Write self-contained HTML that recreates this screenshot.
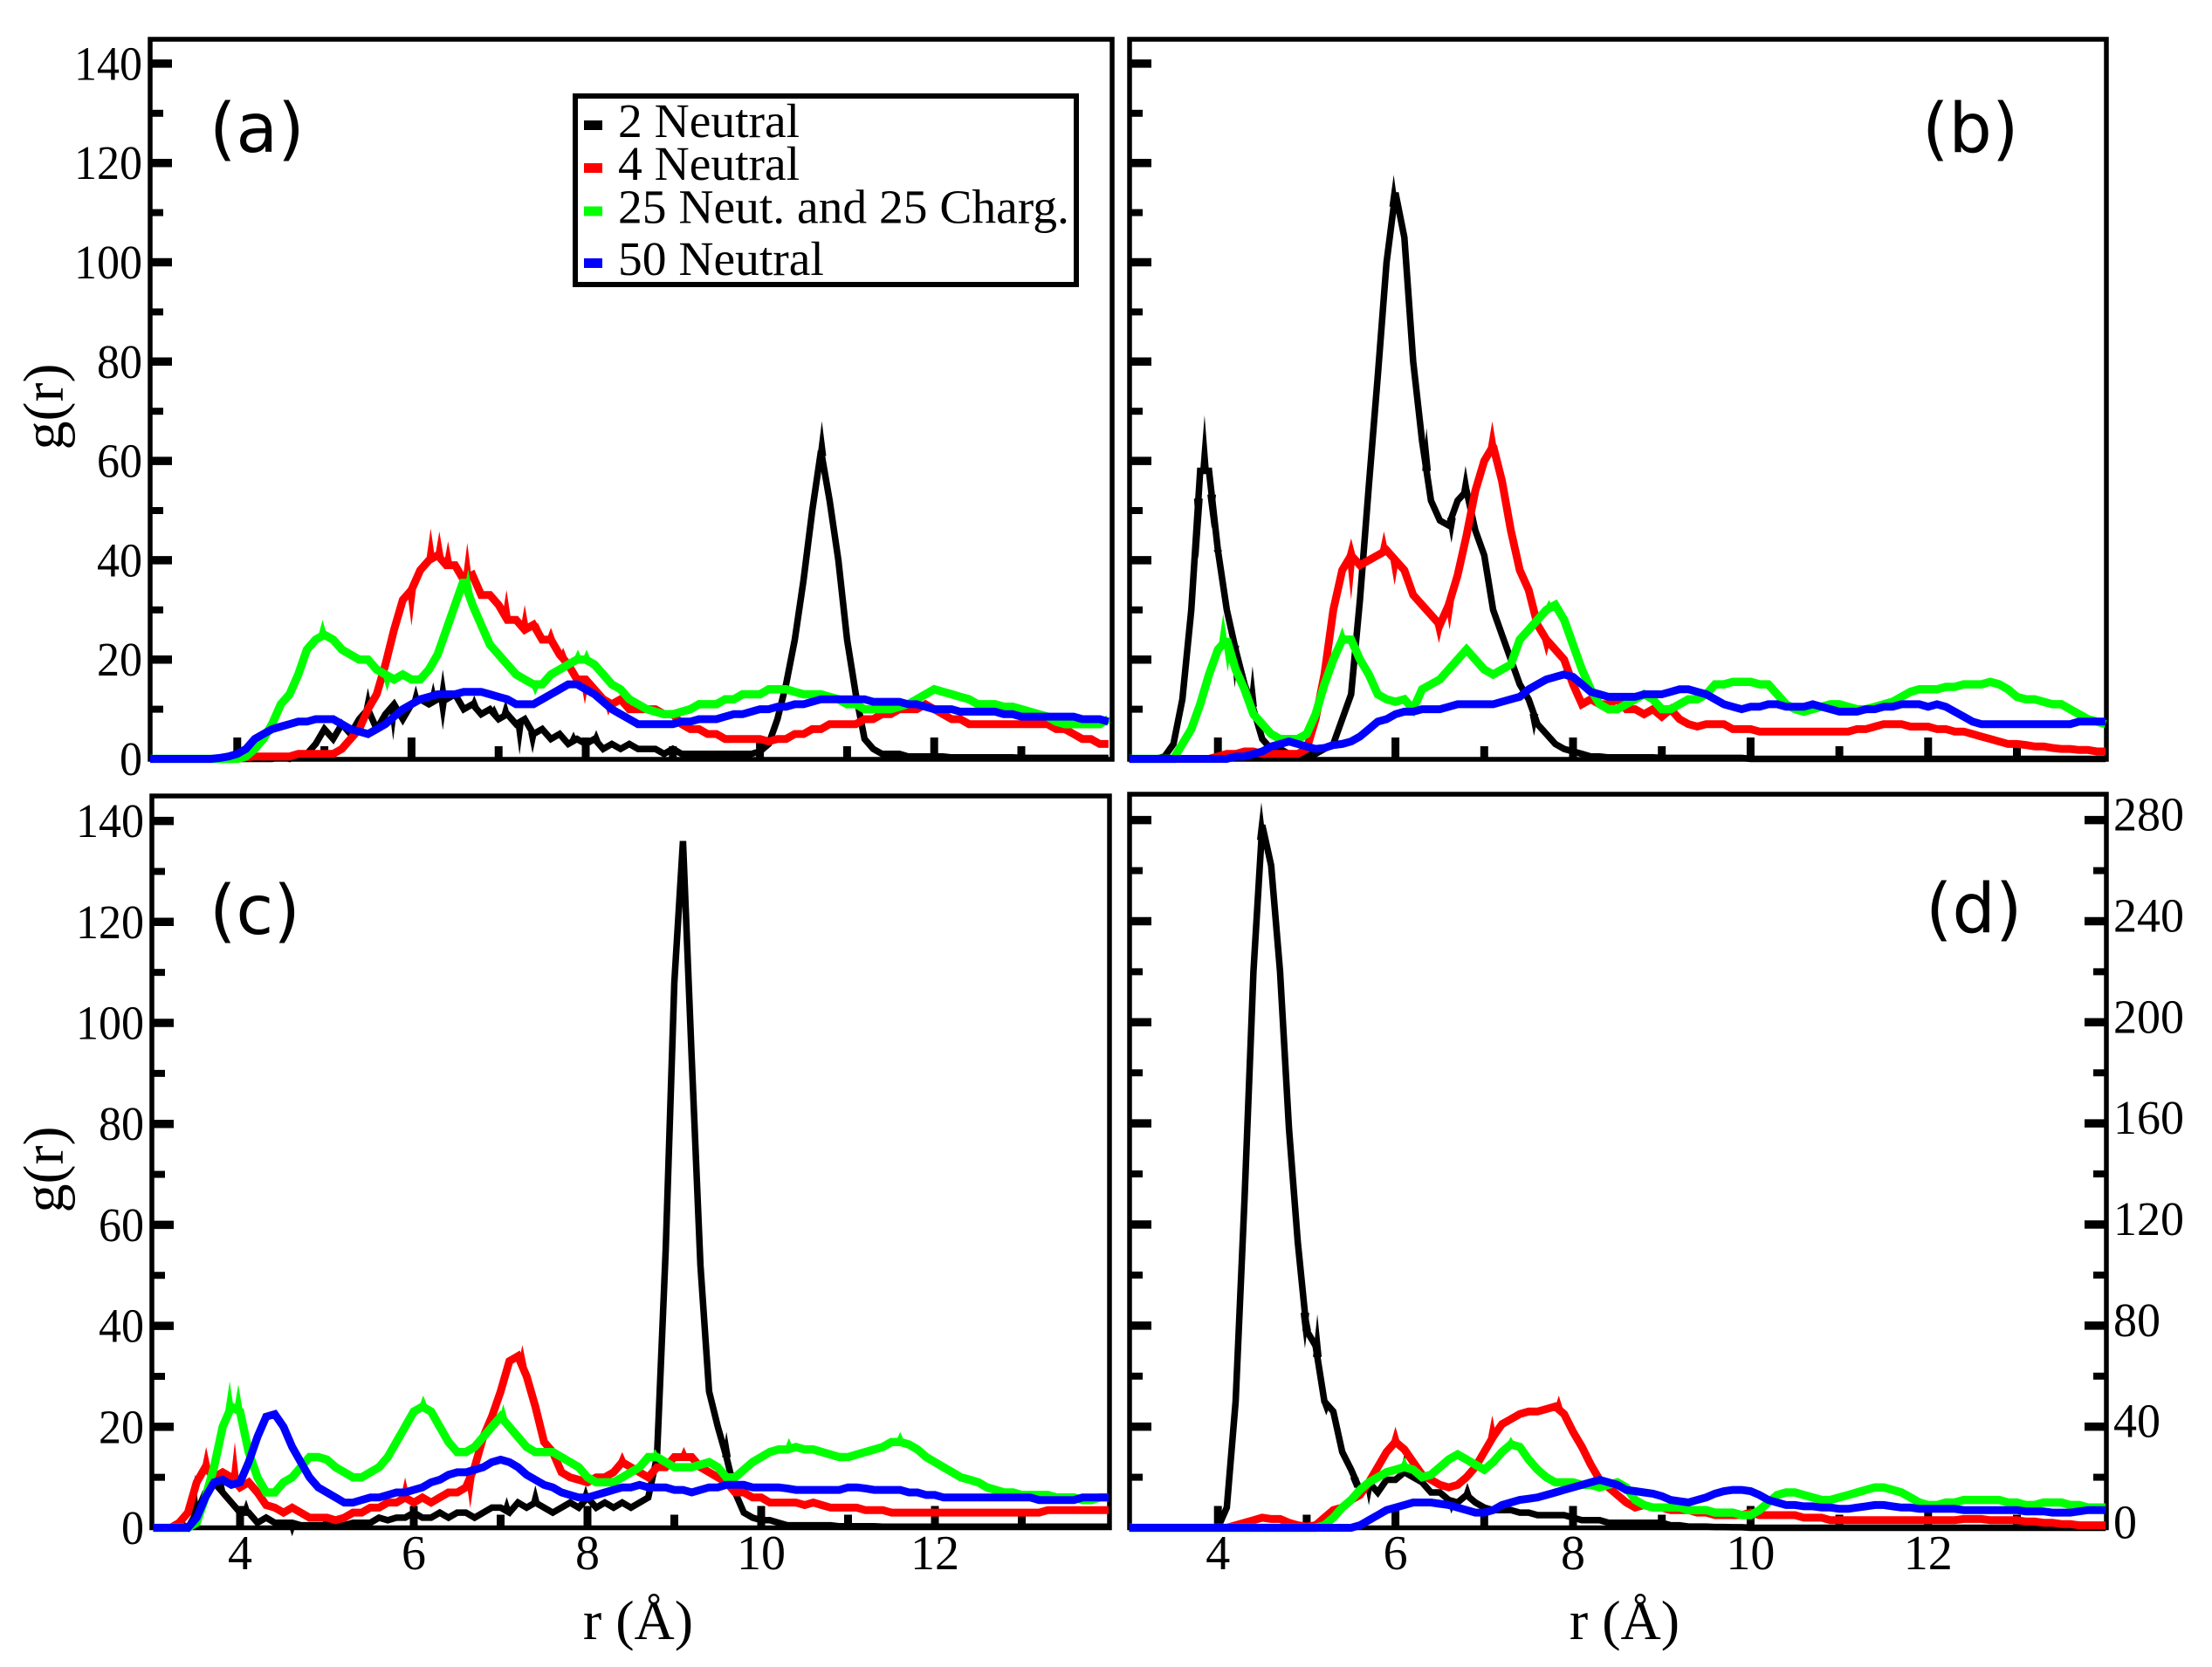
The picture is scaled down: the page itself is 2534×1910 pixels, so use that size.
<!DOCTYPE html>
<html lang="en">
<head>
<meta charset="utf-8">
<title>g(r) radial distribution panels</title>
<style>
html,body{margin:0;padding:0;background:#fff;}
svg{display:block;}
.serif{font-family:"Liberation Serif",serif;fill:#000;}
.sans{font-family:"DejaVu Sans",sans-serif;fill:#000;}
</style>
</head>
<body>
<svg id="chart" xmlns="http://www.w3.org/2000/svg" width="2534" height="1910" viewBox="0 0 2534 1910">
<rect x="0" y="0" width="2534" height="1910" fill="#fff"/>
<g id="panels"></g>
<g id="legend"></g>
</svg>
<script>
const rGrid=[
3.0,3.1,3.2,3.3,3.4,3.5,3.6,3.7,3.8,3.9,
4.0,4.1,4.2,4.3,4.4,4.5,4.6,4.7,4.8,4.9,
5.0,5.1,5.2,5.3,5.4,5.5,5.6,5.7,5.8,5.9,
6.0,6.1,6.2,6.3,6.4,6.5,6.6,6.7,6.8,6.9,
7.0,7.1,7.2,7.3,7.4,7.5,7.6,7.7,7.8,7.9,
8.0,8.1,8.2,8.3,8.4,8.5,8.6,8.7,8.8,8.9,
9.0,9.1,9.2,9.3,9.4,9.5,9.6,9.7,9.8,9.9,
10.0,10.1,10.2,10.3,10.4,10.5,10.6,10.7,10.8,10.9,
11.0,11.1,11.2,11.3,11.4,11.5,11.6,11.7,11.8,11.9,
12.0,12.1,12.2,12.3,12.4,12.5,12.6,12.7,12.8,12.9,
13.0,13.1,13.2,13.3,13.4,13.5,13.6,13.7,13.8,13.9,
14.0];

const seriesNames=["2 Neutral","4 Neutral","25 Neut. and 25 Charg.","50 Neutral"];
const leftTickLabels=["0","20","40","60","80","100","120","140"];
const rightTickLabels=["0","40","80","120","160","200","240","280"];
const xTickLabels=["4","6","8","10","12"];

/* Panel (a) */
const aBlack=[
0,0,0,0,0,0,0,0,0,0,
0,0,0,0,0,0.5,0,1,1,3,
6,4,7,5,8,10,6,9,11,8,
11,12,11,12,12,13,10,11,9,10,
8,9,7,8,5,6,4,5,3,4,
3,4,2,3,2,3,2,2,2,1,
2,1,1,1,1,1,1,1,1,1,
1.5,3,8,15,24,36,50,62,52,40,
24,13,4,2,1,1,1,0.5,0.5,0.5,
0.5,0.5,0.3,0.3,0.3,0.3,0.3,0.3,0.3,0.3,
0.2,0.2,0.2,0.2,0.2,0.2,0.2,0.2,0.2,0.2,
0.2];
const aBlackSpikeR=[5.5,5.79,6.05,6.25,6.36,6.36,6.72,6.95,7.08,7.24,7.39,7.86,8.12,10.71];
const aBlackSpikeG=[14.3,3.7,14.8,15.4,18,5.8,12.8,10.8,11.9,0.8,1.1,5.5,5.8,68];
const aRed=[
0,0,0,0,0,0,0,0,0,0,
0,0.3,0.5,0.5,0.5,0.5,0.5,1,1,1,
1,1,2,4,6,10,13,19,26,32,
34,38,40,41,39,39,36,37,33,33,
31,28,28,26,27,24,24,21,19,16,
16,14,12,11,12,10,10,10,10,9,
9,7,6,6,5,5,4,4,4,4,
4,3.5,4,4,5,5,6,6,7,7,
7,7,8,8,9,9,10,10,10,11,
10,9,8,8,7,7,7,7,7,7,
7,7,7,7,6,6,5,4,4,3,
3];
const aRedSpikeR=[6.0,6.22,6.32,6.42,6.64,7.09,7.3,7.45,7.6,7.74,7.99,8.26];
const aRedSpikeG=[26.8,46.4,45.8,43.8,43.5,34,31,27.4,26.4,22.4,11,8.7];
const aGreen=[
0,0,0,0,0,0,0,0,0,0,
0,0.5,2,4,7,11,13,17,22,24,
25,24,22,21,20,20,18,17,16,17,
16,16,18,21,26,31,36,31,27,23,
21,19,17,16,15,15,17,18,19,20,
20,19,17,15,14,12,11,10,9.5,9,
9,9.5,10,11,11,11,12,12,13,13,
13,14,14,14,13.5,13,13,13,12.5,12,
11,11,10,10,10,10,10.5,11,12,13,
14,13.5,13,12.5,12,11,11,11,10.5,10.5,
10,9.5,9,8.5,7.5,7,7,7,7,7,
8];
const aGreenSpikeR=[4.98,5.72,6.65,7.42,7.91,8.01];
const aGreenSpikeG=[28,13.6,38.2,12.8,22,22];
const aBlue=[
0,0,0,0,0,0,0,0,0.2,0.5,
1,2,4,5,6,6.5,7,7.5,7.5,8,
8,8,7,6,5.5,5,6,7,8.5,10,
11,12,12.5,13,13,13,13.5,13.5,13.5,13,
12.5,12,11,11,11,12,13,14,15,15,
14,13,11.5,10,9,8,7,7,7,7,
7,7.5,7.5,8,8,8,8.5,9,9,9.5,
10,10,10.5,10.5,11,11,11.5,12,12,12,
12,12,12,11.5,11.5,11.5,11.5,11,11,10.5,
10,10,10,9.5,9.5,9.5,9.5,9.5,9,9,
8.5,8.5,8.5,8.5,8.5,8.5,8.5,8,8,8,
7.5];

/* Panel (b) */
const bBlack=[
0,0,0,0,0.5,3,12,30,58,58,
42,30,22,15,10,4,2,2,1,1,
1,1,2,3,8,13,32,55,77,100,
114,105,80,64,52,48,47,52,54,46,
41,30,25,20,15,12,7,5,3,2,
1.5,1,0.5,0.5,0.3,0.3,0.3,0.3,0.3,0.3,
0.2,0.2,0.2,0.2,0.2,0.2,0.2,0.2,0.2,0.2,
0,0,0,0,0,0,0,0,0,0,
0,0,0,0,0,0,0,0,0,0,
0,0,0,0,0,0,0,0,0,0,
0,0,0,0,0,0,0,0,0,0,
0];
const bBlackSpikeR=[3.78,3.85,3.93,4.0,4.19,4.39,5.98,6.35,6.63,6.79,7.56];
const bBlackSpikeG=[40.3,69.2,46.4,40.6,14.3,18.7,117.6,66.6,43.5,59,4.6];
const bRed=[
0,0,0,0,0,0,0,0,0,0,
0.5,1,1,1.5,1.5,1,1,1,1,1,
2,8,17,30,38,41,39,40,41,42,
40,38,33,31,29,27,31,37,45,54,
60,63,56,46,38,34,27,24,22,20,
15,11,12,11,11,12,10,10,9,10,
8.5,10,8,7,6.5,7,7,7,6,6,
6,5.5,5.5,5.5,5.5,5.5,5.5,5.5,5.5,5.5,
5.5,5.5,6,6,6.5,7,7,7,6.5,6.5,
6.5,6,6,5.5,5.5,5,4.5,4,3.5,3,
3,2.8,2.5,2.5,2.2,2,2,1.8,1.8,1.5,
1.5];
const bRedSpikeR=[5.5,5.5,5.87,5.99,6.49,6.61,7.09,7.7];
const bRedSpikeG=[44.4,32,45.8,35,23.3,26,68,20.7];
const bGreen=[
0,0,0,0,0,0,3,6,11,17,
22,24,18,14,9,7,5,4,4,4,
5,9,15,20,24,24,20,17,13,12,
11.5,12,10,14,15,16,18,20,22,20,
18,17,18,19,24,26,28,30,31,28,
23,18,14,11,10,10,11,12,13,12,
10,10,11,12,12,13,15,15,15.5,15.5,
15.5,15,15,13,11,10,9.5,10,10.5,11,
11,10.5,10,10,10.5,11,11.5,12.5,13.5,14,
14,14,14.5,14.5,15,15,15,15.5,15,14,
12.5,12,12,11.5,11,11,10,9,8,7.5,
7];
const bGreenSpikeR=[4.06,4.11,5.4,7.73];
const bGreenSpikeG=[29.2,17.5,26.5,32];
const bBlue=[
0,0,0,0,0,0,0,0,0,0,
0,0,0.5,0.5,1,1.5,2.5,3,3.5,3,
2.5,2,2.2,2.8,3,3.5,4.5,6,7.5,8,
9,9.5,9.5,10,10,10,10.5,11,11,11,
11,11,11.5,12,12.5,14,15,16,16.5,17,
16.5,15,13.5,13,12.5,12.5,12.5,12.5,13,13,
13,13.5,14,14,13.5,13,12,11,10.5,10,
10.5,10.5,11,11,10.5,10.5,10.5,11,10.5,10,
9.5,9.5,9.5,10,10,10.5,10.5,11,11,11,
10.5,11,10.5,9.5,8.5,7.5,7,7,7,7,
7,7,7,7,7,7,7,7.5,7.5,7.5,
7.5];

/* Panel (c) */
const cBlack=[
0,0,0,1,0,3,7,9,7,5,
3,3,1,2,1,1,1,0.5,0.5,0.5,
0.5,0.5,0.5,1,1,1,2,1.5,2,2,
3,2,2,3,2,3,3,2,3,4,
4,3,5,4,5,4,3,4,5,4,
6,4,5,4,5,4,5,6,14,55,
108,136,93,52,27,20,14,7,3,2,
1.5,1.5,1,0.5,0.5,0.5,0.5,0.5,0.5,0.3,
0.3,0.3,0.3,0.3,0.2,0.2,0.2,0.2,0.2,0.2,
0.2,0.2,0.2,0.2,0.2,0.2,0.2,0.2,0.2,0.2,
0.2,0.2,0.2,0.2,0.2,0.2,0.2,0.2,0.2,0.2,
0.2];
const cBlackSpikeR=[3.48,3.78,4.07,4.6,7.07,7.4,7.98,9.6];
const cBlackSpikeG=[10.6,11,5.6,-1.7,6.1,8.4,8.4,19];
const cRed=[
0,0,0,1,3,9,12,10,11,10,
8,9,7,4.5,4,3,4,3,2,2,
2,1.5,2,3,3,4,4,5,5,6,
5,6,5,6,7,7,8,12,18,22,
27,33,34,30,24,17,15,11,10,9.5,
9,10,10,11,13,12,11,10,12,12,
14,14,14,12,11,10,9,7,7,6,
6,5,5,5,5,4.5,5,4.5,4,4,
4,4,3.5,3.5,3.5,3,3,3,3,3,
3,3,3,3,3,3,3,3,3,3,
3,3,3,3.5,3.5,3.5,3.5,3.5,3.5,3.5,
3.5];
const cRedSpikeR=[3.61,3.94,5.9,6.65,7.25,8.4,9.11];
const cRedSpikeG=[16,17,10,3.9,36.2,15,16];
const cGreen=[
0,0,0,0,0,1,6,12,20,24,
23,15,10,7,7,9,10,12,14,14,
13.5,12,11,10,10,11,12,14,17,20,
23,24,23,20,17,15,15,16,18,20,
22,20,18,16,15,15,15,14,13,12,
10,9,9,9,10,11,12,14,14,13,
12,12,12,12.5,13,12,10,10,11.5,13,
14,15,15.5,15.5,16,15.5,15.5,15,14.5,14,
14,14.5,15,15.5,16,17,17,16.5,15.5,14,
13,12,11,10,9.5,9,8,7.5,7,7,
6.5,6.5,6.5,6.5,6,6,6,5.5,5.5,6,
6];
const cGreenSpikeR=[3.88,3.98,6.11,7.03,8.78,10.32,11.6];
const cGreenSpikeG=[29,28.4,26.2,24.5,15.6,17.8,19];
const cBlue=[
0,0,0,0,0,2,6,9,9.5,8.5,
9,13,18,22,22.5,20,16,13,10,8,
7,6,5,5,5.5,6,6,6.5,7,7,
7.5,8,9,9.5,10.5,11,11,11.5,12,13,
13.5,13,12,10.5,9.5,8.5,8,7,6.5,6,
6,6.5,7,7.5,8,8,8.5,8,8,8,
7.5,7.5,7,7.5,8,8,8.5,8.5,8.5,8,
8,8,8,7.8,7.5,7.5,7.5,7.5,7.5,7.5,
8,8,7.8,7.5,7.5,7.5,7.5,7,7,6.5,
6.5,6,6,6,6,6,6,6,6,6,
6,6,5.5,5.5,5.5,5.5,5.5,6,6,6,
6];

/* Panel (d), values on the right axis scale */
const dBlack=[
0,0,0,0,0,0,0,0,0,0,
0,8,50,130,220,278,262,220,158,113,
78,72,50,46,30,23,15,18,14,19,
19,22,20,18,14,14,11,10,13,10,
8,7,7,7,6,6,5,5,5,5,
4,3,3,3,2,2,2,2,2,2,
2,1,1,0.5,0.5,0.5,0.3,0.3,0.2,0.2,
0,0,0,0,0,0,0,0,0,0,
0,0,0,0,0,0,0,0,0,0,
0,0,0,0,0,0,0,0,0,0,
0,0,0,0,0,0,0,0,0,0,
0];
const dBlackSpikeR=[4.49,4.98,5.0,5.12,5.22,5.54,5.7,6.1,6.63,6.81];
const dBlackSpikeG=[287,71,86.7,84.5,44.5,15.6,8.9,29,5.6,17.8];
const dRed=[
0,0,0,0,0,0,0,0,0,0,
0,0,1,2,3,4,3.5,3.5,2,1,
0.5,1,4,7,8,11,13,18,24,30,
34,31,26,21,19,17,16,17,20,24,
30,36,41,43,45,46,46,47,48,45,
38,32,25,19,16,13,10,8,9,8,
8,7,7,7,6,6,5,5,5,5,
6,5,5,5,5,5,4,4,4,3,
3,3,3,3,3,3,3,3,3,3,
3,3,3,3,3.5,3.5,3.5,3,3,3,
3,2.5,2.5,2,2,1.5,1.5,1,1,1,
1];
const dRedSpikeR=[6.0,7.09,7.84,8.67];
const dRedSpikeG=[40,44.5,52.3,8.9];
const dGreen=[
0,0,0,0,0,0,0,0,0,0,
0,0,0,0,0,0,0,0,0,0,
0,0,1,4,8,11,15,18,20,22,
23,24,23,20,21,24,27,29,27,25,
23,26,30,33,32,27,23,20,18,18,
18,17,17,16,17,18,16,11,9,8,
8,8,8,7,7,7,6,6,6,5,
5,7,10,13,14,14,13,12,11,11,
12,13,14,15,16,16,15,14,12,10,
9,9,10,10,11,11,11,11,11,10,
10,9,9,10,10,10,9,9,8,8,
8];
const dGreenSpikeR=[6.1,7.3];
const dGreenSpikeG=[28,36];
const dBlue=[
0,0,0,0,0,0,0,0,0,0,
0,0,0,0,0,0,0,0,0,0,
0,0,0,0,0,0,1,3,5,7,
8,9,10,10,10,9.5,9,8,7,6,
6,7,9,10,11,11.5,12,13,14,15,
16,17,18,19,18,17,15,14.5,14,13.5,
12.5,11,10.5,10,11,12,13.5,14.5,15,15,
14.5,13,11,10,9,9,8.5,8.5,8,8,
7.5,7.5,8,8.5,9,9,8.5,8,8,7.5,
7.5,7.5,7.5,7.5,7,7,7,7,7,7,
7,6.5,6.5,6.5,6,6,6,6.5,7,7,
7];

const SVGNS="http://www.w3.org/2000/svg";
const colours=["#000000","#ff0000","#00ff00","#0000ff"];
const widths=[7.5,9,9.5,9];

function mk(parent,tag,attrs){
  const e=document.createElementNS(SVGNS,tag);
  for(const k in attrs){e.setAttribute(k,attrs[k]);}
  parent.appendChild(e);
  return e;
}
function valueAt(vals,r){
  for(let i=0;i<rGrid.length-1;i++){
    if(r<=rGrid[i+1]){
      const t=(r-rGrid[i])/(rGrid[i+1]-rGrid[i]);
      return vals[i]+(vals[i+1]-vals[i])*t;
    }
  }
  return vals[vals.length-1];
}

const panelDefs=[
 {id:"a",series:[aBlack,aRed,aGreen,aBlue],spikeR:[aBlackSpikeR,aRedSpikeR,aGreenSpikeR,[]],spikeG:[aBlackSpikeG,aRedSpikeG,aGreenSpikeG,[]],
  box:[172,45,1274,870],x3:172,xu:99.8,y0:869.5,yu:5.69,
  leftLabels:true,xLabels:false,titleY:466,tag:[240,174],rightAxis:false},
 {id:"b",series:[bBlack,bRed,bGreen,bBlue],spikeR:[bBlackSpikeR,bRedSpikeR,bGreenSpikeR,[]],spikeG:[bBlackSpikeG,bRedSpikeG,bGreenSpikeG,[]],
  box:[1294,45,2413,870],x3:1293.5,xu:101.7,y0:869.5,yu:5.69,
  leftLabels:false,xLabels:false,tag:[2202,174],rightAxis:false},
 {id:"c",series:[cBlack,cRed,cGreen,cBlue],spikeR:[cBlackSpikeR,cRedSpikeR,cGreenSpikeR,[]],spikeG:[cBlackSpikeG,cRedSpikeG,cGreenSpikeG,[]],
  box:[174,912,1271,1750.5],x3:175.5,xu:99.5,y0:1750.5,yu:5.785,
  leftLabels:true,xLabels:true,titleY:1340,xTitle:731,tag:[240,1070],rightAxis:false},
 {id:"d",series:[dBlack,dRed,dGreen,dBlue],spikeR:[dBlackSpikeR,dRedSpikeR,dGreenSpikeR,[]],spikeG:[dBlackSpikeG,dRedSpikeG,dGreenSpikeG,[]],
  box:[1294,910,2413,1750.5],x3:1293.5,xu:101.7,y0:1750.5,yu:2.896,
  leftLabels:false,xLabels:true,xTitle:1861,tag:[2206,1068],rightAxis:true}
];

const root=document.getElementById("panels");
for(const p of panelDefs){
  const g=mk(root,"g",{});
  
  
  const xS=r=>p.x3+(r-3)*p.xu;
  const yS=v=>p.y0-v*p.yu;
  const [bx0,by0,bx1,by1]=p.box;

  const frame=mk(g,"rect",{x:bx0,y:by0,width:bx1-bx0,height:by1-by0,fill:"none",stroke:"#000","stroke-width":5.5});
  
  

  /* y ticks */
  const yStep=p.rightAxis?20:10;
  const yMax=p.rightAxis?280:140;
  for(let v=yStep;v<=yMax;v+=yStep){
    const major=(v%(yStep*2)===0);
    const len=major?25:15;
    const sw=major?9.5:8;
    const t=mk(g,"line",{x1:bx0,x2:bx0+len,y1:yS(v),y2:yS(v),stroke:"#000","stroke-width":sw});
    
    
    if(p.rightAxis){
      const t2=mk(g,"line",{x1:bx1,x2:bx1-len,y1:yS(v),y2:yS(v),stroke:"#000","stroke-width":sw});
      
      
    }
  }
  /* x ticks */
  for(let r=4;r<=13;r+=1){
    const major=(r%2===0);
    const len=major?25:15;
    const t=mk(g,"line",{x1:xS(r),x2:xS(r),y1:by1,y2:by1-len,stroke:"#000","stroke-width":9});
    
    
  }

  /* series */
  p.series.forEach((vals,si)=>{
    let d="";
    vals.forEach((v,i)=>{d+=(i?"L":"M")+xS(rGrid[i]).toFixed(1)+" "+yS(v).toFixed(1);});
    const sg=mk(g,"g",{});
    
    
    const path=mk(sg,"path",{d:d,fill:"none",stroke:colours[si],"stroke-width":widths[si],"stroke-linejoin":"miter","stroke-miterlimit":2});
    
    
    p.spikeR[si].forEach((r,k)=>{
      const base=valueAt(vals,r);
      const tip=p.spikeG[si][k];
      const pts=(xS(r)-5).toFixed(1)+","+yS(base).toFixed(1)+" "+xS(r).toFixed(1)+","+yS(tip).toFixed(1)+" "+(xS(r)+5).toFixed(1)+","+yS(base).toFixed(1);
      const sp=mk(sg,"polygon",{points:pts,fill:colours[si]});
      
      
    });
  });

  /* left labels */
  if(p.leftLabels){
    leftTickLabels.forEach(lbl=>{
      const t=mk(g,"text",{x:bx0-9,y:yS(+lbl)+18.5,"text-anchor":"end","font-size":55,textLength:lbl.length*26,lengthAdjust:"spacingAndGlyphs",class:"serif"});
      t.textContent=lbl;
      
      
    });
    const tt=mk(g,"text",{transform:"translate(72 "+p.titleY+") rotate(-90)","text-anchor":"middle","font-size":66,class:"serif"});
    tt.textContent="g(r)";
    
    
  }
  /* right labels */
  if(p.rightAxis){
    rightTickLabels.forEach(lbl=>{
      const t=mk(g,"text",{x:bx1+8,y:yS(+lbl)+12,"text-anchor":"start","font-size":55,textLength:lbl.length*27,lengthAdjust:"spacingAndGlyphs",class:"serif"});
      t.textContent=lbl;
      
      
    });
  }
  /* x labels */
  if(p.xLabels){
    xTickLabels.forEach(lbl=>{
      const t=mk(g,"text",{x:xS(+lbl),y:1798,"text-anchor":"middle","font-size":56,class:"serif"});
      t.textContent=lbl;
      
      
    });
    const xt=mk(g,"text",{x:p.xTitle,y:1878,"text-anchor":"middle","font-size":64,class:"serif"});
    xt.textContent="r (Å)";
    
    
  }
  /* panel letter */
  const tag=mk(g,"text",{x:p.tag[0],y:p.tag[1],"font-size":78,class:"sans"});
  tag.textContent="("+p.id+")";
  
  
}

/* legend */
const legendRoot=document.getElementById("legend");
const legendBox=mk(legendRoot,"rect",{x:659,y:110,width:574,height:216,fill:"#fff",stroke:"#000","stroke-width":6});


const legendBaselines=[157,206,255.5,315];
seriesNames.forEach((name,i)=>{
  const m=mk(legendRoot,"rect",{x:669,y:legendBaselines[i]-19,width:21,height:11,fill:colours[i]});
  
  
  const t=mk(legendRoot,"text",{x:708,y:legendBaselines[i],"font-size":55.5,class:"serif"});
  t.textContent=name;
  
  
});
</script>
</body>
</html>
